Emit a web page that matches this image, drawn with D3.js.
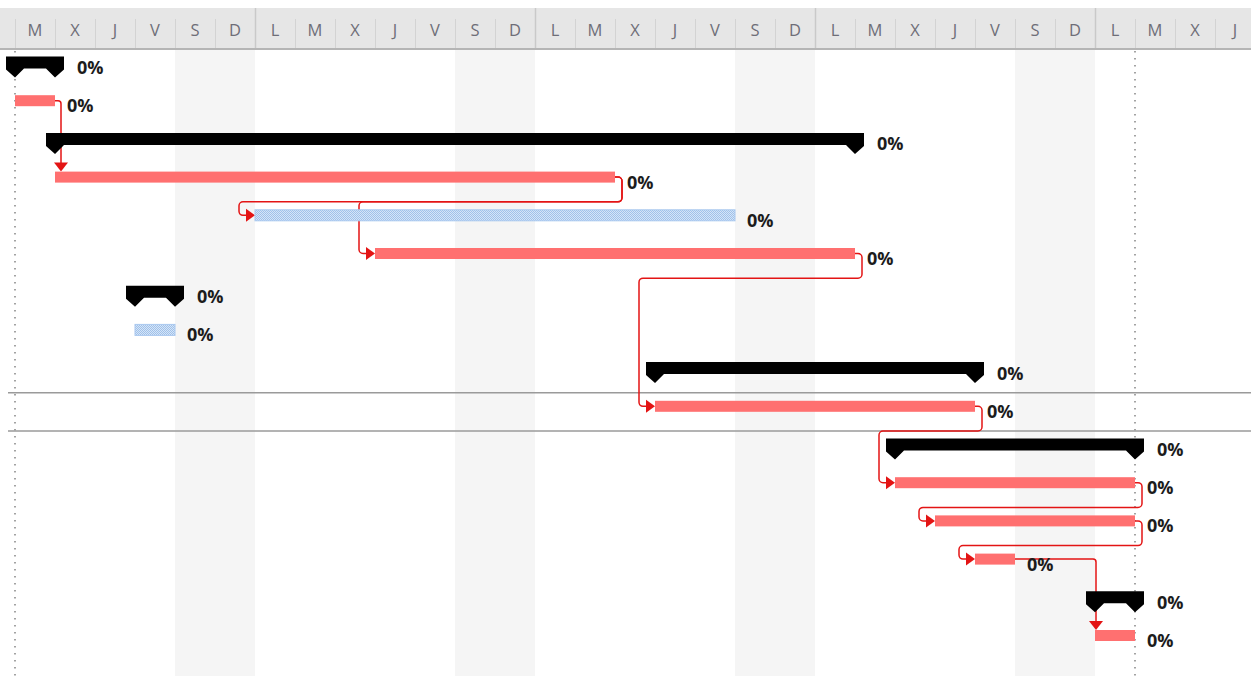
<!DOCTYPE html>
<html>
<head>
<meta charset="utf-8">
<script src="https://cdn.jsdelivr.net/npm/d3@7"></script>
<style>
  html, body { margin: 0; padding: 0; background: #fff; overflow: hidden; }
  #chart { width: 1251px; height: 676px; }
</style>
</head>
<body>
<div id="chart"></div>
<script>
document.addEventListener("DOMContentLoaded", function () {
  const width = 1251,
    height = 676;

  // Timescale: Spanish day initials, the view starts on a Tuesday (M).
  const dayLetters = ["M", "X", "J", "V", "S", "D", "L",
    "M", "X", "J", "V", "S", "D", "L",
    "M", "X", "J", "V", "S", "D", "L",
    "M", "X", "J", "V", "S", "D", "L",
    "M", "X", "J"];
  const weekendDays = [4, 5, 11, 12, 18, 19, 25, 26];
  const weekStarts = [6, 13, 20, 27];

  // Gantt rows (day index of start / finish from the first visible day).
  const rowTypes = ["summary", "task", "summary", "task", "manual", "task",
    "summary", "manual", "summary", "task", "summary", "task", "task",
    "task", "summary", "task"];
  const startDays = [0, 0, 1, 1, 6, 9, 3, 3, 16, 16, 22, 22, 23, 24, 27, 27];
  const finishDays = [1, 1, 21, 15, 18, 21, 4, 4, 24, 24, 28, 28, 28, 25, 28, 28];
  const percentDone = [0, 0, 0, 0, 0, 0, 0, 0, 0, 0, 0, 0, 0, 0, 0, 0];

  // Finish-to-start links [predecessor row, successor row].
  const links = [[1, 3], [3, 4], [3, 5], [5, 9], [9, 11], [11, 12], [12, 13], [13, 15]];

  const projectStartDay = 0;
  const statusDay = 28;
  const selectedRow = 9;

  const headerTop = 8,
    headerBottom = 49;

  const x = d3.scaleLinear().domain([0, dayLetters.length]).range([15, 15 + 40 * dayLetters.length]);
  const rowTop = d3.scaleLinear().domain([0, 1]).range([49, 49 + 38.2]);

  const svg = d3
    .select("#chart")
    .append("svg")
    .attr("width", width)
    .attr("height", height);

  // Hatch pattern for manually scheduled tasks.
  const defs = svg.append("defs");
  const pat = defs.append("pattern")
    .attr("id", "hatch")
    .attr("width", 2)
    .attr("height", 2)
    .attr("patternUnits", "userSpaceOnUse");
  pat.append("rect").attr("width", 2).attr("height", 2).attr("fill", "#d6e5f7");
  pat.append("rect").attr("width", 1).attr("height", 1).attr("fill", "#9fc1ea");
  pat.append("rect").attr("x", 1).attr("y", 1).attr("width", 1).attr("height", 1).attr("fill", "#9fc1ea");

  // Weekend shading.
  svg.append("g")
    .selectAll("rect")
    .data(weekendDays)
    .join("rect")
    .attr("x", (d) => x(d))
    .attr("y", headerBottom)
    .attr("width", (d) => x(d + 1) - x(d))
    .attr("height", height - headerBottom)
    .attr("fill", "#f5f5f5");

  // Header band.
  svg.append("rect")
    .attr("x", 0)
    .attr("y", headerTop)
    .attr("width", width)
    .attr("height", headerBottom - headerTop)
    .attr("fill", "#e6e6e6");

  const days = d3.range(dayLetters.length);
  svg.append("g")
    .selectAll("line")
    .data(days)
    .join("line")
    .attr("x1", (d) => x(d) + 0.5)
    .attr("x2", (d) => x(d) + 0.5)
    .attr("y1", (d) => (weekStarts.includes(d) ? headerTop : 19))
    .attr("y2", headerBottom - 1)
    .attr("stroke", (d) => (weekStarts.includes(d) ? "#c9c9c9" : "#d3d3d3"))
    .attr("stroke-width", (d) => (weekStarts.includes(d) ? 1.5 : 1));

  svg.append("g")
    .selectAll("text")
    .data(days)
    .join("text")
    .attr("x", (d) => (x(d) + x(d + 1)) / 2)
    .attr("y", 29)
    .attr("text-anchor", "middle")
    .attr("dominant-baseline", "central")
    .attr("font-family", "'Open Sans', 'Noto Sans', sans-serif")
    .attr("font-size", 16.5)
    .attr("fill", "#6e6e78")
    .text((d) => dayLetters[d]);

  svg.append("line")
    .attr("x1", 0)
    .attr("x2", width)
    .attr("y1", headerBottom)
    .attr("y2", headerBottom)
    .attr("stroke", "#b5b5b5")
    .attr("stroke-width", 2);

  // Dotted project start and status date lines.
  svg.append("g")
    .selectAll("line")
    .data([projectStartDay, statusDay])
    .join("line")
    .attr("x1", (d) => x(d))
    .attr("x2", (d) => x(d))
    .attr("y1", headerBottom + 2)
    .attr("y2", height)
    .attr("stroke", "#8c8c8c")
    .attr("stroke-width", 1.6)
    .attr("stroke-dasharray", "1.6 5.4");

  // Selected row frame.
  svg.append("g")
    .selectAll("line")
    .data([selectedRow, selectedRow + 1])
    .join("line")
    .attr("x1", 8)
    .attr("x2", width)
    .attr("y1", (d) => rowTop(d))
    .attr("y2", (d) => rowTop(d))
    .attr("stroke", "#9a9a9a")
    .attr("stroke-width", 1.5);

  const rows = d3.range(rowTypes.length);
  const barTop = (i) => rowTop(i) + 8;
  const barMid = (i) => rowTop(i) + 13.5;

  // Links (drawn first, bars on top).
  function roundedPath(points, r) {
    const p = d3.path();
    p.moveTo(points[0][0], points[0][1]);
    for (let k = 1; k < points.length - 1; k++) {
      p.arcTo(points[k][0], points[k][1], points[k + 1][0], points[k + 1][1], r);
    }
    const last = points[points.length - 1];
    p.lineTo(last[0], last[1]);
    return p.toString();
  }

  const linkColor = "#e31414";
  const linkG = svg.append("g");
  links.forEach(([a, b]) => {
    const ex = x(finishDays[a]);
    const ey = barMid(a);
    const sx = x(startDays[b]);
    if (startDays[b] >= finishDays[a]) {
      const vx = Math.max(ex + 6, sx + 1);
      const ty = barTop(b);
      linkG.append("path")
        .attr("d", roundedPath([[ex, ey], [vx, ey], [vx, ty - 7]], 3))
        .attr("fill", "none")
        .attr("stroke", linkColor)
        .attr("stroke-width", 1.5);
      linkG.append("path")
        .attr("d", `M${vx - 7},${ty - 9}L${vx + 7},${ty - 9}L${vx},${ty}Z`)
        .attr("fill", linkColor);
    } else {
      const vx = ex + 7;
      const hy = rowTop(a + 1);
      const lx = sx - 16;
      const ty = barMid(b);
      linkG.append("path")
        .attr("d", roundedPath([[ex, ey], [vx, ey], [vx, hy], [lx, hy], [lx, ty], [sx - 7, ty]], 4))
        .attr("fill", "none")
        .attr("stroke", linkColor)
        .attr("stroke-width", 1.5);
      linkG.append("path")
        .attr("d", `M${sx - 9},${ty - 6.5}L${sx - 9},${ty + 6.5}L${sx},${ty}Z`)
        .attr("fill", linkColor);
    }
  });

  // Task and manual bars.
  svg.append("g")
    .selectAll("rect")
    .data(rows.filter((i) => rowTypes[i] !== "summary"))
    .join("rect")
    .attr("x", (i) => x(startDays[i]))
    .attr("y", (i) => barTop(i))
    .attr("width", (i) => x(finishDays[i]) - x(startDays[i]))
    .attr("height", 11)
    .attr("fill", (i) => (rowTypes[i] === "task" ? "#ff7070" : "url(#hatch)"))
    .attr("stroke", (i) => (rowTypes[i] === "task" ? "none" : "#a9c8ef"))
    .attr("stroke-width", 1);

  // Summary bars with end caps.
  svg.append("g")
    .selectAll("path")
    .data(rows.filter((i) => rowTypes[i] === "summary"))
    .join("path")
    .attr("d", (i) => {
      const s = x(startDays[i]),
        e = x(finishDays[i]),
        t = barTop(i) - 0.5;
      return `M${s - 9},${t}H${e + 9}V${t + 13}L${e},${t + 21}L${e - 9},${t + 12}` +
        `H${s + 9}L${s},${t + 21}L${s - 9},${t + 13}Z`;
    })
    .attr("fill", "#000");

  // Percent complete labels.
  svg.append("g")
    .selectAll("text")
    .data(rows)
    .join("text")
    .attr("x", (i) => x(finishDays[i]) + (rowTypes[i] === "summary" ? 22 : 12))
    .attr("y", (i) => rowTop(i) + 18)
    .attr("dominant-baseline", "central")
    .attr("font-family", "'Open Sans', 'Noto Sans', sans-serif")
    .attr("font-weight", 700)
    .attr("font-size", 18)
    .attr("fill", "#1c1c1c")
    .text((i) => percentDone[i] + "%");
});
</script>
</body>
</html>
